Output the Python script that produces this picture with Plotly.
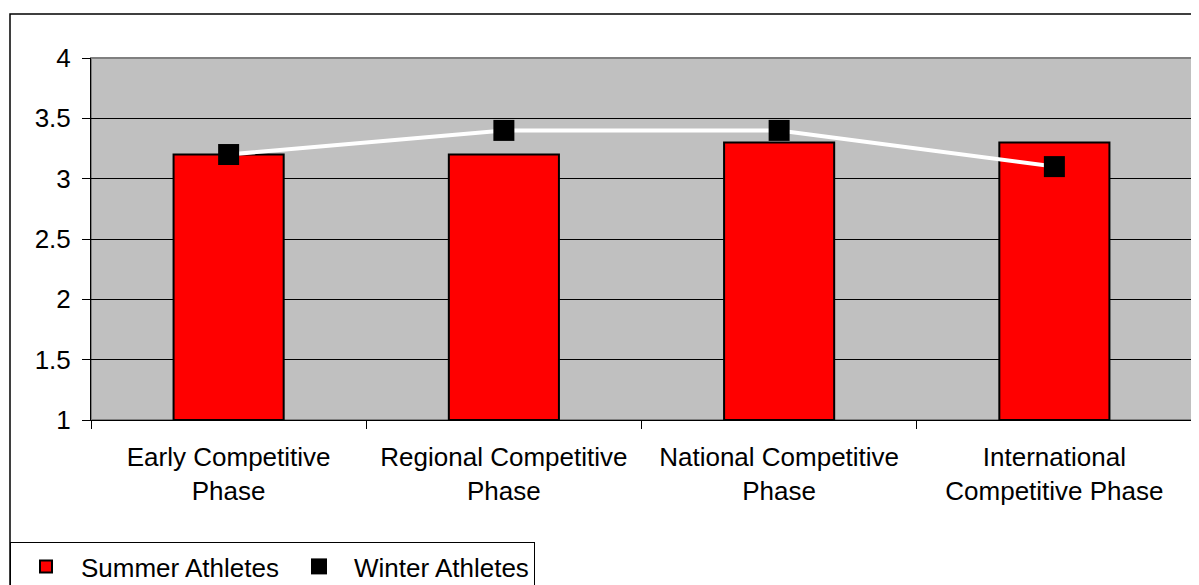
import plotly.graph_objects as go

categories = ["Early Competitive<br>Phase", "Regional Competitive<br>Phase",
              "National Competitive<br>Phase", "International<br>Competitive Phase"]
summer = [3.2, 3.2, 3.3, 3.3]
winter = [3.2, 3.4, 3.4, 3.1]
y_ticks = [1, 1.5, 2, 2.5, 3, 3.5, 4]
y_tick_labels = ["1", "1.5", "2", "2.5", "3", "3.5", "4"]

# page is offset by the body margin (8px)
OFF = 8
FW, FH = 1191, 585
PLOT_L, PLOT_R, PLOT_T, PLOT_B = 91, 1192, 58, 420  # page pixels
L = PLOT_L - OFF
T = PLOT_T - OFF
R = FW - (PLOT_R - OFF)
B = FH - (PLOT_B - OFF)
pw = PLOT_R - PLOT_L
ph = PLOT_B - PLOT_T

def px_x(px):
    return (px - PLOT_L) / pw

def px_y(py):
    return (PLOT_B - py) / ph

FONT = "Liberation Sans, Arial, sans-serif"
FS = 26

fig = go.Figure()
fig.add_trace(go.Bar(
    x=categories, y=[v - 1 for v in summer], base=1, name="Summer Athletes",
    width=0.4, marker=dict(color="#FF0000", line=dict(color="#000000", width=2)),
))
fig.add_trace(go.Scatter(
    x=categories, y=winter, name="Winter Athletes", mode="lines+markers",
    line=dict(color="#FFFFFF", width=4),
    marker=dict(symbol="square", size=21, color="#000000", line=dict(width=0)),
))

fig.update_layout(
    width=FW, height=FH,
    margin=dict(l=L, r=R, t=T, b=B, pad=0, autoexpand=False),
    paper_bgcolor="#FFFFFF",
    plot_bgcolor="#C0C0C0",
    font=dict(family=FONT, size=FS, color="#000000"),
    showlegend=True,
    legend=dict(
        orientation="h", x=px_x(10), y=px_y(542), xanchor="left", yanchor="top",
        bordercolor="#000000", borderwidth=1, bgcolor="#FFFFFF",
        font=dict(family=FONT, size=26, color="#000000"),
        itemwidth=60, tracegroupgap=0,
    ),
    bargap=0.6,
    shapes=[
        dict(type="rect", xref="paper", yref="paper", x0=0, x1=1, y0=0, y1=1,
             line=dict(color="#808080", width=2), layer="below"),
        dict(type="rect", xref="paper", yref="paper",
             x0=px_x(10), x1=px_x(1230), y0=px_y(640), y1=px_y(14),
             line=dict(color="#000000", width=1.5)),
    ],
)
fig.update_xaxes(
    type="category", showgrid=False, showline=True, linecolor="#000000", linewidth=1,
    ticks="outside", tickson="boundaries", ticklen=8, tickcolor="#000000",
    tickfont=dict(family=FONT, size=FS, color="#000000"),
    ticklabelstandoff=14,
    zeroline=False,
)
fig.update_yaxes(
    range=[1, 4], tickvals=y_ticks, ticktext=y_tick_labels,
    showgrid=True, gridcolor="#000000", gridwidth=1,
    showline=True, linecolor="#000000", linewidth=1,
    ticks="outside", ticklen=8, tickcolor="#000000",
    tickfont=dict(family=FONT, size=FS, color="#000000"),
    ticklabelstandoff=6,
    zeroline=False,
)

fig.write_html("out.html")
